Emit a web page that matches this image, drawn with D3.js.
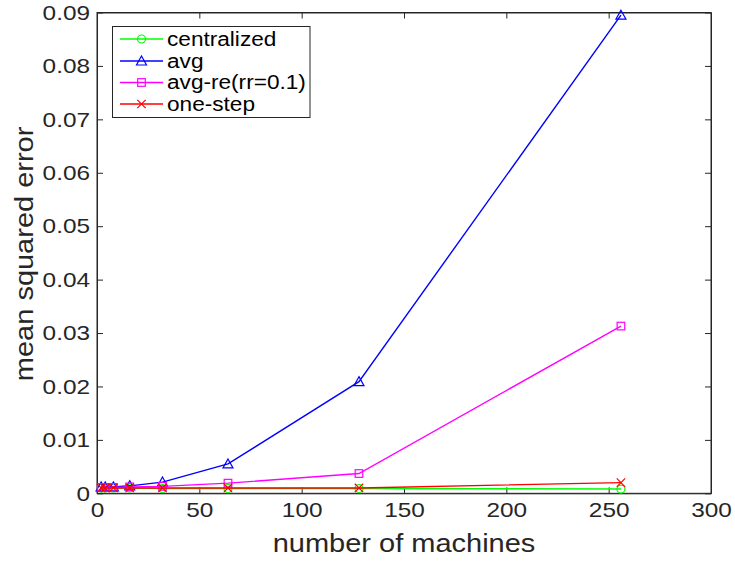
<!DOCTYPE html>
<html><head><meta charset="utf-8">
<script src="https://cdn.jsdelivr.net/npm/d3@7"></script>
<style>body{margin:0;background:#fff;} svg{display:block;font-family:"Liberation Sans",Arial,sans-serif;}</style>
</head><body>
<svg id="c" width="735" height="563"></svg>
<script>
const machines = [2, 4, 8, 16, 32, 64, 128, 256];
const centralized = [0.0010, 0.0010, 0.0010, 0.0010, 0.0009, 0.0009, 0.0009, 0.0008];
const avg = [0.0012, 0.0012, 0.0012, 0.0014, 0.0021, 0.0055, 0.0209, 0.0895];
const avgRe = [0.0011, 0.0011, 0.0011, 0.0012, 0.0013, 0.0019, 0.0037, 0.0313];
const oneStep = [0.0010, 0.0010, 0.0010, 0.0010, 0.0010, 0.0010, 0.0010, 0.0020];
const xTicks = [0, 50, 100, 150, 200, 250, 300];
const yTicks = [0, 0.01, 0.02, 0.03, 0.04, 0.05, 0.06, 0.07, 0.08, 0.09];
const seriesNames = ["centralized", "avg", "avg-re(rr=0.1)", "one-step"];
const seriesColors = ["#00ff00", "#0000ff", "#ff00ff", "#ff0000"];
const seriesMarkers = ["circle", "triangle", "square", "x"];
const seriesValues = [centralized, avg, avgRe, oneStep];

const SX = 1.16; // horizontal stretch of the text face
const svg = d3.select("#c");
const L = 97, R = 711, T = 12.5, B = 493.3;
const x = d3.scaleLinear().domain([0, 300]).range([L, R]);
const y = d3.scaleLinear().domain([0, 0.09]).range([B, T]);
const axisColor = "#262626";

svg.append("rect").attr("x", L).attr("y", T).attr("width", R - L).attr("height", B - T)
  .attr("fill", "none").attr("stroke", axisColor).attr("stroke-width", 1);

const fmtY = d => d === 0 ? "0" : d3.format(".2f")(d);
const bx = svg.append("g").attr("transform", `translate(0,${B})`)
  .call(d3.axisBottom(x).tickValues(xTicks).tickSizeInner(-6).tickSizeOuter(0).tickPadding(8));
const tx = svg.append("g").attr("transform", `translate(0,${T})`)
  .call(d3.axisTop(x).tickValues(xTicks).tickSizeInner(-6).tickSizeOuter(0).tickFormat(""));
const ly = svg.append("g").attr("transform", `translate(${L},0)`)
  .call(d3.axisLeft(y).tickValues(yTicks).tickSizeInner(-6).tickSizeOuter(0).tickPadding(7).tickFormat(fmtY));
const ry = svg.append("g").attr("transform", `translate(${R},0)`)
  .call(d3.axisRight(y).tickValues(yTicks).tickSizeInner(-6).tickSizeOuter(0).tickFormat(""));
[bx, tx, ly, ry].forEach(g => {
  g.select(".domain").attr("stroke", axisColor);
  g.selectAll(".tick line").attr("stroke", axisColor);
  g.selectAll(".tick text").attr("fill", axisColor).attr("font-size", 21)
    .attr("font-family", "Liberation Sans, Arial, sans-serif");
});
bx.selectAll(".tick text").attr("y", 0).attr("dy", null)
  .attr("transform", `translate(0,24) scale(${SX},1)`);
ly.selectAll(".tick text").attr("x", 0)
  .attr("transform", `translate(-7,0) scale(${SX},1)`);

svg.append("text").attr("transform", `translate(${x(150)},552) scale(${SX},1)`).attr("text-anchor", "middle")
  .attr("font-size", 25).attr("fill", axisColor).text("number of machines");
svg.append("text").attr("transform", `translate(33,${(T + B) / 2 + 1}) rotate(-90) scale(${SX},1)`).attr("text-anchor", "middle")
  .attr("font-size", 25).attr("fill", axisColor).text("mean squared error");

function drawMarker(g, type, cx, cy, color) {
  if (type === "circle") {
    g.append("circle").attr("cx", cx).attr("cy", cy).attr("r", 4).attr("fill", "none").attr("stroke", color).attr("stroke-width", 1.2);
  } else if (type === "triangle") {
    const s = 5;
    g.append("path").attr("d", `M${cx},${cy - s}L${cx + s},${cy + s * 0.8}L${cx - s},${cy + s * 0.8}Z`)
      .attr("fill", "none").attr("stroke", color).attr("stroke-width", 1.2);
  } else if (type === "square") {
    g.append("rect").attr("x", cx - 3.8).attr("y", cy - 3.8).attr("width", 7.6).attr("height", 7.6)
      .attr("fill", "none").attr("stroke", color).attr("stroke-width", 1.2);
  } else {
    const s = 4.2;
    g.append("path").attr("d", `M${cx - s},${cy - s}L${cx + s},${cy + s}M${cx - s},${cy + s}L${cx + s},${cy - s}`)
      .attr("stroke", color).attr("stroke-width", 1.2);
  }
}

const line = d3.line().x((d, i) => x(machines[i])).y(d => y(d));
seriesValues.forEach((vals, k) => {
  const g = svg.append("g");
  g.append("path").datum(vals).attr("d", line).attr("fill", "none")
    .attr("stroke", seriesColors[k]).attr("stroke-width", 1.4);
  vals.forEach((v, i) => drawMarker(g, seriesMarkers[k], x(machines[i]), y(v), seriesColors[k]));
});

const lg = svg.append("g");
lg.append("rect").attr("x", 112.5).attr("y", 26.5).attr("width", 197.5).attr("height", 91)
  .attr("fill", "#fff").attr("stroke", axisColor).attr("stroke-width", 1);
const legendY = [39, 61, 82.5, 104];
seriesNames.forEach((name, k) => {
  const yy = legendY[k];
  lg.append("line").attr("x1", 120).attr("x2", 163).attr("y1", yy).attr("y2", yy)
    .attr("stroke", seriesColors[k]).attr("stroke-width", 1.4);
  drawMarker(lg, seriesMarkers[k], 141.5, yy, seriesColors[k]);
  lg.append("text").attr("transform", `translate(167,${yy}) scale(${SX},1)`).attr("dy", "0.35em").attr("font-size", 19.5)
    .attr("fill", "#000").text(name);
});
</script>
</body></html>
